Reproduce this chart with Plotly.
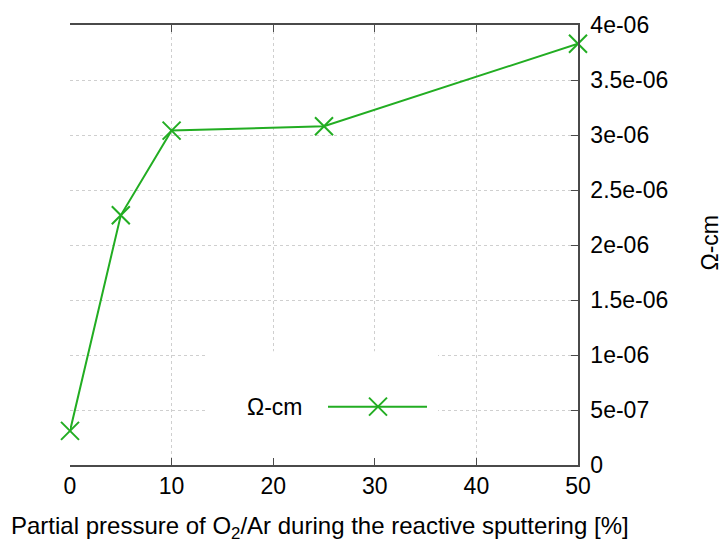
import plotly.graph_objects as go

# Data
pressure = [0, 5, 10, 25, 50]
resistivity = [3.1e-7, 2.27e-6, 3.04e-6, 3.08e-6, 3.83e-6]
y2_tickvals = [0, 5e-7, 1e-6, 1.5e-6, 2e-6, 2.5e-6, 3e-6, 3.5e-6, 4e-6]
y2_ticktext = ["0", "5e-07", "1e-06", "1.5e-06", "2e-06", "2.5e-06", "3e-06", "3.5e-06", "4e-06"]
x_tickvals = [0, 10, 20, 30, 40, 50]
series_name = "Ω-cm"

GREEN = "#22ad22"
FONT = "Liberation Sans, Arial, sans-serif"
FS = 23
AXC = "#4a4a4a"
GRIDC = "#cfcfcf"

fig = go.Figure()
fig.add_trace(go.Scatter(
    x=pressure, y=resistivity, yaxis="y2", mode="lines+markers",
    line=dict(color=GREEN, width=2),
    marker=dict(symbol="x-thin", size=18, line=dict(color=GREEN, width=2)),
    showlegend=False, name=series_name, cliponaxis=False,
))

L, R, T, B = 70, 147, 20, 78
W, H = 725, 543
pw, ph = W - L - R, H - T - B

def px(xp):
    return (xp - L) / pw

def py(yp):
    return (H - B - yp) / ph

shapes = []
# opaque legend box (hides grid)
shapes.append(dict(type="rect", xref="x", yref="y2",
                   x0=(208 - L) / pw * 50, x1=(438 - L) / pw * 50,
                   y0=0, y1=py(350) * 4e-6,
                   fillcolor="white", line=dict(width=0), layer="between"))
# legend line
ly = py(406)
shapes.append(dict(type="line", xref="paper", yref="paper",
                   x0=px(328), x1=px(427), y0=ly, y1=ly,
                   line=dict(color=GREEN, width=2)))
# legend X marker
for (a, b) in [((-9, -9), (9, 9)), ((-9, 9), (9, -9))]:
    shapes.append(dict(type="line", xref="paper", yref="paper",
                       xsizemode="pixel", ysizemode="pixel",
                       xanchor=px(378), yanchor=ly,
                       x0=a[0], y0=a[1], x1=b[0], y1=b[1],
                       line=dict(color=GREEN, width=2)))

annotations = [
    dict(text=series_name, xref="paper", yref="paper", x=px(305), y=ly,
         xanchor="right", yanchor="middle", showarrow=False,
         font=dict(size=FS, color="black", family=FONT)),
    dict(text="Partial pressure of O<sub>2</sub>/Ar during the reactive sputtering [%]",
         xref="paper", yref="paper", x=px(320), y=py(528),
         xanchor="center", yanchor="middle", showarrow=False,
         font=dict(size=24, color="black", family=FONT)),
    dict(text=series_name, xref="paper", yref="paper", x=px(710), y=py(240),
         xanchor="center", yanchor="middle", showarrow=False, textangle=-90,
         font=dict(size=FS, color="black", family=FONT)),
]

fig.update_layout(
    width=W, height=H,
    margin=dict(l=L, r=R, t=T, b=B, pad=0),
    paper_bgcolor="white", plot_bgcolor="white",
    font=dict(family=FONT, size=FS, color="black"),
    xaxis=dict(range=[0, 50], tickvals=x_tickvals, ticks="inside", ticklen=7,
               tickcolor=AXC, tickwidth=1.2, showline=True, linecolor=AXC,
               linewidth=1.5, mirror="ticks", showgrid=True, gridcolor=GRIDC,
               griddash="dot", gridwidth=1, zeroline=False,
               tickfont=dict(size=FS, family=FONT, color="black")),
    yaxis=dict(range=[0, 5], dtick=1, ticks="inside", ticklen=7, tickcolor=AXC,
               tickwidth=1.2, showline=True, linecolor=AXC, linewidth=1.5,
               mirror="ticks", showticklabels=False, showgrid=False,
               zeroline=False),
    yaxis2=dict(range=[0, 4e-6], overlaying="y", side="right",
                tickvals=y2_tickvals, ticktext=y2_ticktext, ticks="inside",
                ticklen=7, tickcolor=AXC, tickwidth=1.2, showline=True,
                linecolor=AXC, linewidth=1.5, showgrid=True, gridcolor=GRIDC,
                griddash="dot", gridwidth=1, zeroline=False,
                ticklabelstandoff=6,
                tickfont=dict(size=FS, family=FONT, color="black")),
    shapes=shapes,
    annotations=annotations,
    showlegend=False,
)

fig.write_html("out.html")
